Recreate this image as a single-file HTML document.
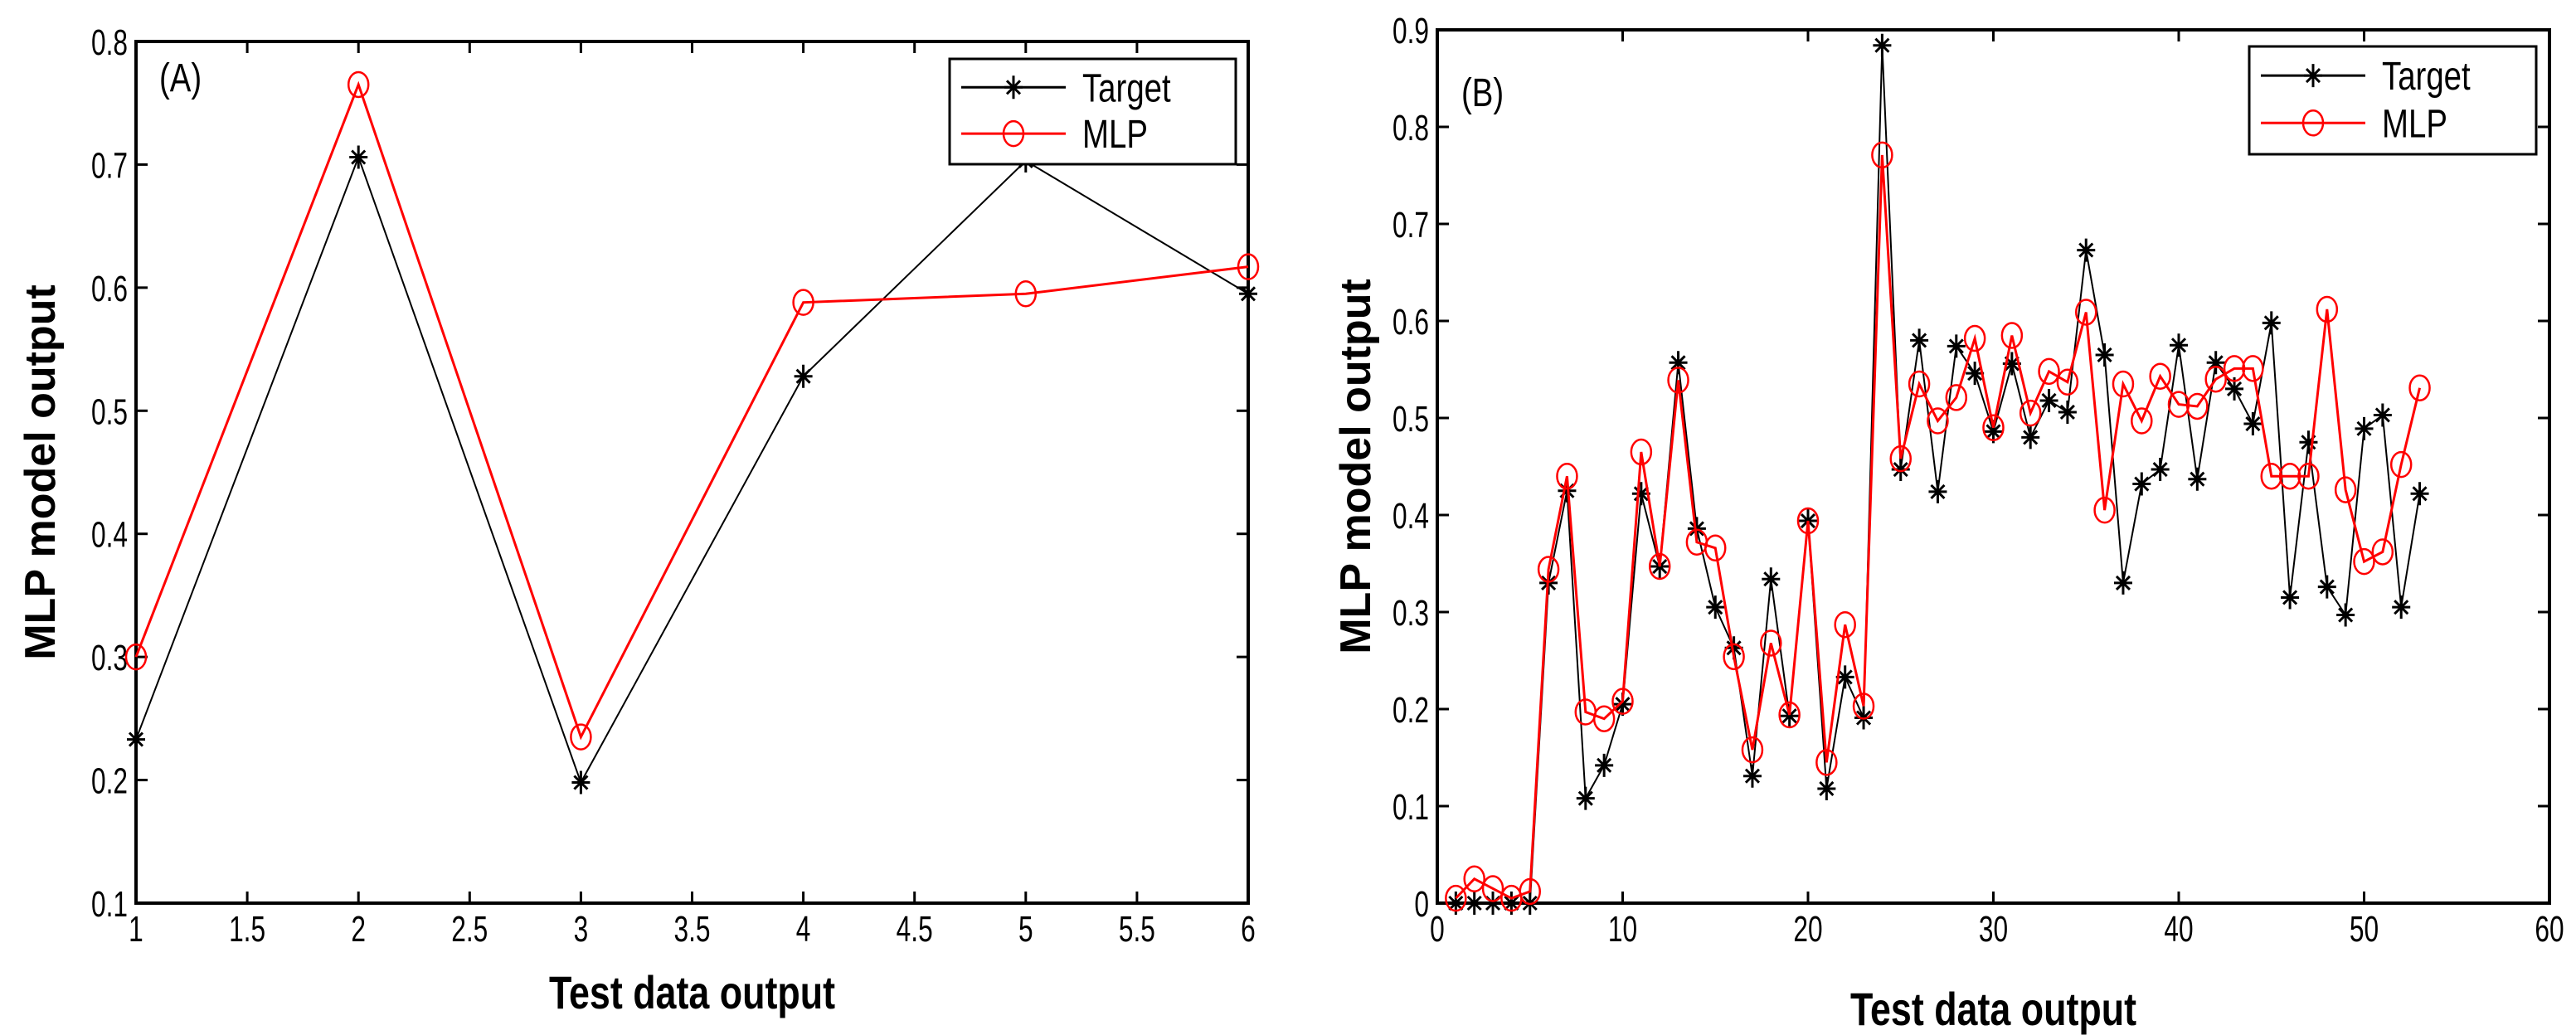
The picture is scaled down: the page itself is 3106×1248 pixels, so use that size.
<!DOCTYPE html>
<html><head><meta charset="utf-8"><style>
html,body{margin:0;padding:0;background:#fff;}
svg{display:block;font-family:"Liberation Sans",sans-serif;}
</style></head><body>
<svg id="fig" width="3106" height="1248" viewBox="0 0 3106 1248" xmlns="http://www.w3.org/2000/svg"></svg>
<script>
const aX = [1,2,3,4,5,6];
const aTarget = [0.233,0.706,0.198,0.528,0.703,0.595];
const aMLP = [0.300,0.765,0.235,0.588,0.595,0.617];
const aXTicks = [1,1.5,2,2.5,3,3.5,4,4.5,5,5.5,6];
const aXTickLabels = ["1","1.5","2","2.5","3","3.5","4","4.5","5","5.5","6"];
const aYTicks = [0.1,0.2,0.3,0.4,0.5,0.6,0.7,0.8];
const aYTickLabels = ["0.1","0.2","0.3","0.4","0.5","0.6","0.7","0.8"];

const bTarget = [0,0,0,0,0,0.33,0.425,0.108,0.142,0.205,0.422,0.347,0.557,0.386,0.305,0.263,0.131,0.334,0.193,0.394,0.118,0.233,0.191,0.884,0.447,0.580,0.424,0.574,0.546,0.486,0.556,0.480,0.518,0.506,0.673,0.565,0.330,0.432,0.447,0.575,0.437,0.557,0.530,0.494,0.598,0.315,0.475,0.326,0.297,0.489,0.503,0.305,0.422];
const bMLP = [0.005,0.025,0.015,0.005,0.012,0.344,0.44,0.197,0.19,0.208,0.465,0.347,0.539,0.372,0.366,0.254,0.158,0.268,0.194,0.394,0.145,0.287,0.203,0.771,0.458,0.535,0.497,0.521,0.582,0.49,0.585,0.505,0.548,0.537,0.609,0.405,0.535,0.497,0.543,0.514,0.512,0.540,0.551,0.551,0.440,0.440,0.440,0.612,0.426,0.352,0.362,0.452,0.531];
const bXTicks = [0,10,20,30,40,50,60];
const bXTickLabels = ["0","10","20","30","40","50","60"];
const bYTicks = [0,0.1,0.2,0.3,0.4,0.5,0.6,0.7,0.8,0.9];
const bYTickLabels = ["0","0.1","0.2","0.3","0.4","0.5","0.6","0.7","0.8","0.9"];

const NS="http://www.w3.org/2000/svg";
const svg=document.getElementById('fig');
function el(tag,attrs,parent,txt){const e=document.createElementNS(NS,tag);for(const k in attrs)e.setAttribute(k,attrs[k]);if(txt!==undefined)e.textContent=txt;(parent||svg).appendChild(e);return e;}
function sq(x,s){return `translate(${x},0) scale(${s},1) translate(${-x},0)`;}

function panel(cfg){
  const g=el('g',{});
  
  
  const sx=v=>cfg.L+(v-cfg.x0)/(cfg.x1-cfg.x0)*(cfg.R-cfg.L);
  const sy=v=>cfg.B-(v-cfg.y0)/(cfg.y1-cfg.y0)*(cfg.B-cfg.T);
  cfg.xt.forEach((t,i)=>{
    const x=sx(t);
    el('line',{x1:x,x2:x,y1:cfg.B,y2:cfg.B-14,stroke:'#000','stroke-width':3},g);
    el('line',{x1:x,x2:x,y1:cfg.T,y2:cfg.T+14,stroke:'#000','stroke-width':3},g);
    const tx=el('text',{x:x,y:cfg.B+46,'font-size':44,'text-anchor':'middle',transform:sq(x,0.72)},g,cfg.xl[i]);
    
    
  });
  cfg.yt.forEach((t,i)=>{
    const y=sy(t);
    el('line',{x1:cfg.L,x2:cfg.L+14,y1:y,y2:y,stroke:'#000','stroke-width':3},g);
    el('line',{x1:cfg.R,x2:cfg.R-14,y1:y,y2:y,stroke:'#000','stroke-width':3},g);
    const tx=el('text',{x:cfg.L-10,y:y+16,'font-size':44,'text-anchor':'end',transform:sq(cfg.L-10,0.72)},g,cfg.yl[i]);
    
    
  });
  const box=el('rect',{x:cfg.L,y:cfg.T,width:cfg.R-cfg.L,height:cfg.B-cfg.T,fill:'none',stroke:'#000','stroke-width':4},g);
  
  
  const series=[{d:cfg.t,c:'#000',m:'star',n:'target-line'},{d:cfg.m,c:'#f00',m:'circle',n:'mlp-line'}];
  series.forEach(s=>{
    const pts=s.d.map((v,i)=>[sx(cfg.xs[i]),sy(v)]);
    const pl=el('polyline',{points:pts.map(p=>p.join(',')).join(' '),fill:'none',stroke:s.c,'stroke-width':s.c==='#000'?2:3},g);
    
    
    pts.forEach(p=>{
      if(s.m==='star'){
        const mk=el('path',{d:`M${p[0]-11},${p[1]}h22M${p[0]},${p[1]-14}v28M${p[0]-8},${p[1]-8}l16,16M${p[0]-8},${p[1]+8}l16,-16`,stroke:'#000','stroke-width':3,fill:'none'},g);
        
        
      } else {
        const mk=el('ellipse',{cx:p[0],cy:p[1],rx:12,ry:15,stroke:'#f00','stroke-width':2.5,fill:'none'},g);
        
        
      }
    });
  });
  const pl=el('text',{x:cfg.lx,y:cfg.ly,'font-size':48,transform:sq(cfg.lx,0.8)},g,cfg.label);
  
  
  const lg=el('g',{},g);
  
  
  const [gx,gy,gw,gh]=cfg.leg;
  el('rect',{x:gx,y:gy,width:gw,height:gh,fill:'#fff',stroke:'#000','stroke-width':3},lg);
  const y1=gy+gh*0.27,y2=gy+gh*0.71,lx1=gx+14,lx2=gx+140,mx=(lx1+lx2)/2;
  const e1=el('g',{},lg);
  
  
  el('line',{x1:lx1,x2:lx2,y1:y1,y2:y1,stroke:'#000','stroke-width':3},e1);
  el('path',{d:`M${mx-11},${y1}h22M${mx},${y1-14}v28M${mx-8},${y1-8}l16,16M${mx-8},${y1+8}l16,-16`,stroke:'#000','stroke-width':3},e1);
  el('text',{x:lx2+20,y:y1+17,'font-size':48,transform:sq(lx2+20,0.8)},e1,'Target');
  const e2=el('g',{},lg);
  
  
  el('line',{x1:lx1,x2:lx2,y1:y2,y2:y2,stroke:'#f00','stroke-width':3},e2);
  el('ellipse',{cx:mx,cy:y2,rx:12,ry:15,stroke:'#f00','stroke-width':2.5,fill:'none'},e2);
  el('text',{x:lx2+20,y:y2+17,'font-size':48,transform:sq(lx2+20,0.8)},e2,'MLP');
  const cx=(cfg.L+cfg.R)/2;
  const xt=el('text',{x:cx,y:cfg.xty,'font-size':56,'font-weight':'bold','text-anchor':'middle',transform:sq(cx,0.8)},g,'Test data output');
  
  
  const cy=(cfg.T+cfg.B)/2;
  const yt=el('text',{x:0,y:0,'font-size':52,'font-weight':'bold','text-anchor':'middle',transform:`translate(${cfg.ytx},${cy}) rotate(-90)`},g,'MLP model output');
  
  
}

panel({name:'panel-a',L:164,R:1505,T:50,B:1089,x0:1,x1:6,y0:0.1,y1:0.8,xs:aX,t:aTarget,m:aMLP,xt:aXTicks,xl:aXTickLabels,yt:aYTicks,yl:aYTickLabels,label:'(A)',lx:192,ly:110,leg:[1145,71,345,127],xty:1216,ytx:66});
const bX=bTarget.map((_,i)=>i+1);
panel({name:'panel-b',L:1733,R:3074,T:36,B:1089,x0:0,x1:60,y0:0,y1:0.9,xs:bX,t:bTarget,m:bMLP,xt:bXTicks,xl:bXTickLabels,yt:bYTicks,yl:bYTickLabels,label:'(B)',lx:1762,ly:128,leg:[2712,56,346,130],xty:1236,ytx:1652});
</script>
</body></html>
